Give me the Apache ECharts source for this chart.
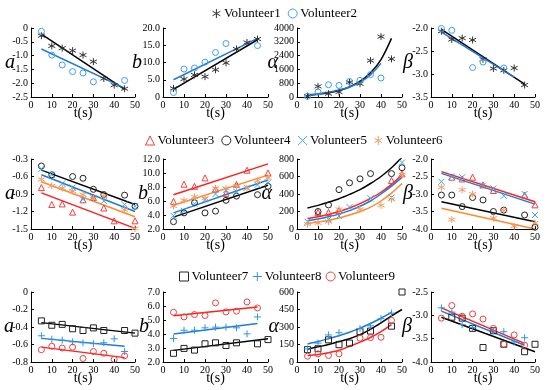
<!DOCTYPE html>
<html><head><meta charset="utf-8">
<script src="https://cdn.jsdelivr.net/npm/echarts/dist/echarts.min.js"></script>
<style>html,body{margin:0;padding:0;background:#fff}#c{width:550px;height:390px}</style>
</head><body><div id="c"></div><script>
// ---------- data ----------
const T = [5,10,15,20,25,30,35,40,45,50];
const xTicks = [0, 50, 10];

// Row 1
const yR_a1 = [-2.5, 0, 0.5];
const a1_V1 = [-0.28,-0.65,-0.73,-0.82,-0.98,-1.22,-1.83,-2.07,-2.2,null];
const a1_V2 = [-0.12,-0.98,-1.34,-1.58,-1.63,-1.95,null,null,-1.9,null];
const a1_V1_fit = [[5,-0.22],[45,-2.22]];
const a1_V2_fit = [[5,-0.76],[45,-2.18]];

const yR_b1 = [0, 20, 5];
const b1_V1 = [2.5,5.2,6.4,5.9,7.9,9.9,13.9,15.8,16.8,null];
const b1_V2 = [1.3,8.1,8.4,10.1,12.9,15.5,null,null,14.9,null];
const b1_V1_fit = [[5,2.2],[45,16.6]];
const b1_V2_fit = [[5,5.0],[45,17.0]];

const yR_al1 = [0, 4000, 800];
const al1_V1 = [50,615,190,290,860,770,2110,3500,2210,null];
const al1_V2 = [40,290,710,670,900,960,1300,1100,null,null];
const al1_V1_fit = [100,155,240,375,580,900,1400,2170,3400,null];
const al1_V2_fit = [130,190,280,400,580,850,1280,1950,null,null];

const yR_be1 = [-3.5, -2.0, 0.5];
const be1_V1 = [-2.07,-2.25,-2.22,-2.26,-2.68,-2.88,-2.92,-2.87,-3.24,null];
const be1_V2 = [-2.01,-2.05,null,-2.86,-2.74,null,-2.87,null,null,null];
const be1_V1_fit = [[5,-2.03],[45,-3.22]];
const be1_V2_fit = [[5,-2.09],[40,-3.07]];

// Row 2
const yR_a2 = [-1.5, -0.3, 0.3];
const a2_V3 = [-0.79,-1.08,-1.07,-1.21,-1.0,-0.96,-1.14,-1.36,null,-1.36];
const a2_V4 = [-0.42,-0.57,null,-0.60,-0.63,-0.82,-0.91,null,-0.92,-1.11];
const a2_V5 = [-0.47,-0.57,-0.72,-0.79,-0.99,-0.97,-1.02,null,-1.08,-1.11];
const a2_V6 = [-0.65,-0.76,-0.80,-0.85,-0.91,-0.98,-0.94,null,-1.17,-1.49];
const a2_V3_fit = [[5,-0.88],[50,-1.49]];
const a2_V4_fit = [[5,-0.49],[50,-1.08]];
const a2_V5_fit = [[5,-0.57],[50,-1.2]];
const a2_V6_fit = [[5,-0.69],[50,-1.29]];

const yR_b2 = [2, 12, 2];
const b2_V3 = [5.94,8.4,8.1,9.3,7.7,7.1,8.35,10.4,null,10.0];
const b2_V4 = [3.05,4.3,5.75,4.3,4.55,6.1,6.7,null,6.9,8.1];
const b2_V5 = [3.9,4.6,5.6,6.2,7.0,7.6,7.3,7.9,8.3,8.6];
const b2_V6 = [5.3,6.1,6.6,6.4,7.8,7.8,8.1,7.8,8.9,9.3];
const b2_V3_fit = [[5,6.9],[50,11.3]];
const b2_V4_fit = [[5,3.7],[50,8.25]];
const b2_V5_fit = [[5,4.3],[50,9.0]];
const b2_V6_fit = [[5,5.4],[50,9.7]];

const yR_al2 = [0, 800, 200];
const al2_V3 = [null,190,190,210,null,null,null,null,555,630];
const al2_V4 = [null,200,275,450,528,573,633,null,633,700];
const al2_V5 = [83,null,110,150,250,null,350,null,360,760];
const al2_V6 = [55,70,85,225,null,225,null,270,340,620];
const al2_V3_fit = [120,140,165,200,240,290,350,420,510,620];
const al2_V4_fit = [240,270,305,345,395,450,520,600,700,820];
const al2_V5_fit = [95,115,140,170,210,260,320,400,490,590];
const al2_V6_fit = [65,80,100,125,160,200,250,320,410,520];

const yR_be2 = [-4.0, -2.0, 0.5];
const be2_V3 = [null,-2.52,-2.57,-2.52,-2.74,-2.9,null,null,-3.03,-3.31];
const be2_V4 = [-3.03,-3.03,-3.36,-3.1,-3.17,-3.5,-3.46,null,-3.6,-3.95];
const be2_V5 = [-2.65,-2.5,-2.52,null,-2.76,-2.84,-3.05,null,-3.0,-3.6];
const be2_V6 = [-2.81,-3.73,-2.88,-3.0,null,-3.69,-3.47,-3.92,null,-3.83];
const be2_V3_fit = [[5,-2.36],[50,-3.22]];
const be2_V4_fit = [[5,-3.22],[50,-3.79]];
const be2_V5_fit = [[5,-2.41],[50,-3.29]];
const be2_V6_fit = [[5,-3.41],[50,-4.0]];

// Row 3
const yR_a3 = [-0.8, 0, 0.2];
const a3_V7 = [-0.33,-0.38,-0.37,-0.42,-0.44,-0.41,-0.44,null,-0.44,-0.47];
const a3_V8 = [-0.5,-0.54,-0.55,-0.57,-0.58,-0.59,-0.58,-0.535,-0.68,null];
const a3_V9 = [-0.66,-0.62,-0.64,-0.63,-0.76,-0.68,-0.7,-0.77,-0.73,null];
const a3_V7_fit = [[5,-0.35],[50,-0.47]];
const a3_V8_fit = [[5,-0.53],[45,-0.62]];
const a3_V9_fit = [[5,-0.63],[45,-0.75]];

const yR_b3 = [2, 7, 1];
const b3_V7 = [2.62,2.97,2.85,3.3,3.37,3.18,3.37,null,3.3,3.6];
const b3_V8 = [3.68,4.27,4.27,4.44,4.49,4.49,4.44,4.01,5.22,null];
const b3_V9 = [5.55,5.22,5.39,5.32,6.22,5.58,5.63,6.29,5.86,null];
const b3_V7_fit = [[5,2.83],[50,3.66]];
const b3_V8_fit = [[5,4.0],[45,4.75]];
const b3_V9_fit = [[5,5.3],[45,5.93]];

const yR_al3 = [0, 600, 150];
const al3_V7 = [106,114,190,148,162,260,265,null,307,600];
const al3_V8 = [112,162,232,251,null,287,310,371,419,null];
const al3_V9 = [50,70,56,70,null,204,209,212,357,null];
const al3_V7_fit = [110,130,150,175,200,235,280,335,395,450];
const al3_V8_fit = [155,175,200,225,255,290,330,375,425,null];
const al3_V9_fit = [55,65,80,100,135,170,210,260,320,null];

const yR_be3 = [-4.0, -2.5, 0.5];
const be3_V7 = [null,-3.04,-3.06,-3.28,-3.69,-3.33,-3.62,null,-3.78,-3.62];
const be3_V8 = [-2.84,-2.93,-3.2,-3.26,null,-3.33,-3.35,-3.57,-3.48,null];
const be3_V9 = [-3.06,-2.79,-3.02,-2.97,-3.08,-3.28,-3.62,-3.42,-3.64,null];
const be3_V7_fit = [[5,-3.04],[50,-3.78]];
const be3_V8_fit = [[5,-2.91],[45,-3.64]];
const be3_V9_fit = [[5,-2.84],[45,-3.6]];

const legendRow1 = ['Volunteer1','Volunteer2'];
const legendRow2 = ['Volunteer3','Volunteer4','Volunteer5','Volunteer6'];
const legendRow3 = ['Volunteer7','Volunteer8','Volunteer9'];

// ---------- styles ----------
const SYM = {
  star: 'path://M3.5,0L3.5,7M0.47,1.75L6.53,5.25M0.47,5.25L6.53,1.75',
  cross: 'path://M0,0L7,7M0,7L7,0',
  plus: 'path://M3.5,0L3.5,7M0,3.5L7,3.5'
};
const BLK='#000', BLUE='#1f7ad8', RED='#ff1f1f', ORG='#ff8a2a';
const STY = {
  V1:{name:'Volunteer1', sym:SYM.star, mc:'#333', lc:BLK, size:7},
  V2:{name:'Volunteer2', sym:'circle', mc:'#3fa0f0', lc:BLUE, size:6},
  V3:{name:'Volunteer3', sym:'triangle', mc:'#f04040', lc:RED, size:6},
  V4:{name:'Volunteer4', sym:'circle', mc:'#222', lc:BLK, size:6},
  V5:{name:'Volunteer5', sym:SYM.cross, mc:'#35a8ee', lc:BLUE, size:6},
  V6:{name:'Volunteer6', sym:SYM.star, mc:'#f59a62', lc:ORG, size:7},
  V7:{name:'Volunteer7', sym:'rect', mc:'#222', lc:BLK, size:6},
  V8:{name:'Volunteer8', sym:SYM.plus, mc:'#2f96e8', lc:BLUE, size:7},
  V9:{name:'Volunteer9', sym:'circle', mc:'#f04040', lc:RED, size:6}
};

const FONT = 'Liberation Serif';
const colLeft = [31,163,297,431], colWidth = [104,105,105,104];
const rowTop = [28,159,292], rowHeight = [69,70,70];

const panels = [
  {r:0,c:0,lab:'a',y:yR_a1,dec:1,gap:16,pad:[16,0,0,0],sc:{V1:a1_V1,V2:a1_V2},ft:{V1:a1_V1_fit,V2:a1_V2_fit}},
  {r:0,c:1,lab:'b',y:yR_b1,dec:1,gap:21,pad:0,sc:{V1:b1_V1,V2:b1_V2},ft:{V1:b1_V1_fit,V2:b1_V2_fit}},
  {r:0,c:2,lab:'α',y:yR_al1,dec:0,gap:19,pad:[0,0,10,0],sc:{V1:al1_V1,V2:al1_V2},cv:{V1:al1_V1_fit,V2:al1_V2_fit}},
  {r:0,c:3,lab:'β',y:yR_be1,dec:1,gap:18,pad:0,sc:{V1:be1_V1,V2:be1_V2},ft:{V1:be1_V1_fit,V2:be1_V2_fit}},
  {r:1,c:0,lab:'a',y:yR_a2,dec:1,gap:16,pad:[6,0,0,0],sc:{V3:a2_V3,V4:a2_V4,V5:a2_V5,V6:a2_V6},ft:{V3:a2_V3_fit,V4:a2_V4_fit,V5:a2_V5_fit,V6:a2_V6_fit}},
  {r:1,c:1,lab:'b',y:yR_b2,dec:1,gap:15,pad:[0,0,8,0],sc:{V3:b2_V3,V4:b2_V4,V5:b2_V5,V6:b2_V6},ft:{V3:b2_V3_fit,V4:b2_V4_fit,V5:b2_V5_fit,V6:b2_V6_fit}},
  {r:1,c:2,lab:'α',y:yR_al2,dec:0,gap:25,pad:[0,0,14,0],sc:{V3:al2_V3,V4:al2_V4,V5:al2_V5,V6:al2_V6},cv:{V3:al2_V3_fit,V4:al2_V4_fit,V5:al2_V5_fit,V6:al2_V6_fit}},
  {r:1,c:3,lab:'β',y:yR_be2,dec:1,gap:18,pad:0,sc:{V3:be2_V3,V4:be2_V4,V5:be2_V5,V6:be2_V6},ft:{V3:be2_V3_fit,V4:be2_V4_fit,V5:be2_V5_fit,V6:be2_V6_fit}},
  {r:2,c:0,lab:'a',y:yR_a3,dec:1,gap:17,pad:0,sc:{V7:a3_V7,V8:a3_V8,V9:a3_V9},ft:{V7:a3_V7_fit,V8:a3_V8_fit,V9:a3_V9_fit}},
  {r:2,c:1,lab:'b',y:yR_b3,dec:1,gap:14,pad:[6,0,0,0],sc:{V7:b3_V7,V8:b3_V8,V9:b3_V9},ft:{V7:b3_V7_fit,V8:b3_V8_fit,V9:b3_V9_fit}},
  {r:2,c:2,lab:'α',y:yR_al3,dec:0,gap:18,pad:0,sc:{V7:al3_V7,V8:al3_V8,V9:al3_V9},cv:{V7:al3_V7_fit,V8:al3_V8_fit,V9:al3_V9_fit}},
  {r:2,c:3,lab:'β',y:yR_be3,dec:1,gap:19,pad:[6,0,0,0],sc:{V7:be3_V7,V8:be3_V8,V9:be3_V9},ft:{V7:be3_V7_fit,V8:be3_V8_fit,V9:be3_V9_fit}}
];

function pts(arr){ return T.map((t,i)=> arr[i]==null ? null : [t, arr[i]]).filter(Boolean); }

const grids=[], xAxes=[], yAxes=[], series=[];
const axisCommon = {
  axisLine:{onZero:false, lineStyle:{color:'#000', width:1}},
  axisTick:{inside:true, length:3, lineStyle:{color:'#000'}},
  splitLine:{show:false},
  nameMoveOverlap:false
};
panels.forEach((p,g)=>{
  grids.push({left:colLeft[p.c], top:rowTop[p.r], width:colWidth[p.c], height:rowHeight[p.r]});
  xAxes.push(Object.assign({gridIndex:g, type:'value', min:xTicks[0], max:xTicks[1], interval:xTicks[2],
    axisLabel:{fontSize:10, fontFamily:FONT, color:'#000', margin:3},
    name:'t(s)', nameLocation:'middle', nameGap:9,
    nameTextStyle:{fontSize:14, fontFamily:FONT, color:'#000'}}, axisCommon));
  const dec = p.dec;
  yAxes.push(Object.assign({gridIndex:g, type:'value', min:p.y[0], max:p.y[1], interval:p.y[2],
    axisLabel:{fontSize:10, fontFamily:FONT, color:'#000', margin:3,
      formatter: v => (Math.abs(v)<1e-9 ? '0' : v.toFixed(dec))},
    name:p.lab, nameLocation:'middle', nameRotate:0, nameGap:p.gap,
    nameTextStyle:{fontSize:20, fontStyle:'italic', fontFamily:FONT, color:'#000', padding:p.pad}}, axisCommon));
  Object.keys(p.sc).forEach(v=>{
    const s = STY[v];
    series.push({type:'scatter', name:s.name, xAxisIndex:g, yAxisIndex:g, data:pts(p.sc[v]),
      symbol:s.sym, symbolSize:s.size, z:3, silent:true,
      itemStyle:{color:'rgba(0,0,0,0)', borderColor:s.mc, borderWidth:1, opacity:1}});
  });
  const fits = p.ft || p.cv;
  Object.keys(fits).forEach(v=>{
    const s = STY[v];
    series.push({type:'line', name:'fit'+g+v, xAxisIndex:g, yAxisIndex:g,
      data: p.cv ? pts(fits[v]) : fits[v], showSymbol:false, symbol:'none', silent:true,
      smooth: p.cv ? 0.3 : false, z:2, lineStyle:{color:s.lc, width:1.5}});
  });
});

function legendData(names){
  return names.map(n=>{
    const s = Object.values(STY).find(o=>o.name===n);
    return {name:n, icon:s.sym, itemStyle:{color:'rgba(0,0,0,0)', borderColor:s.mc, borderWidth:1}};
  });
}
const legendCommon = {itemWidth:9, itemHeight:9, selectedMode:false,
  textStyle:{fontSize:13, fontFamily:FONT, color:'#000', padding:[0,0,0,-2]}};
const legends = [
  Object.assign({left:207, top:2, itemGap:7, data:legendData(legendRow1)}, legendCommon),
  Object.assign({left:140, top:129, itemGap:7, data:legendData(legendRow2)}, legendCommon),
  Object.assign({left:174, top:265, itemGap:4, data:legendData(legendRow3)}, legendCommon)
];

const chart = echarts.init(document.getElementById('c'), null, {renderer:'canvas'});
chart.setOption({animation:false, backgroundColor:'#fff', grid:grids, xAxis:xAxes, yAxis:yAxes, legend:legends, series:series});
</script></body></html>
